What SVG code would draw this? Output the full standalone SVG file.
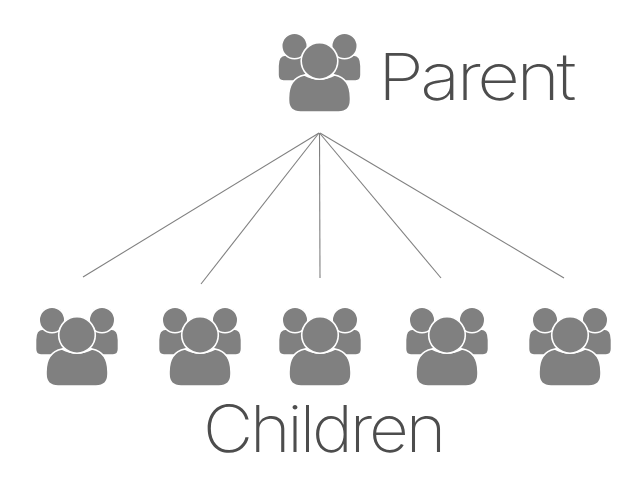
<svg xmlns="http://www.w3.org/2000/svg" width="640" height="480" viewBox="0 0 640 480">
<style>
.l{stroke:#808080;stroke-width:1.1;fill:none}
.t{font-family:"Inter","Liberation Sans",sans-serif;font-weight:200;fill:#4d4d4d;font-size:65px;letter-spacing:-3px}
.i{fill:#808080;stroke:#fff;stroke-width:1.6}
</style>
<defs>
<g id="people">
<path class="i" d="M-41.500 5Q-41.500 -6 -34 -6Q-25 -2 -15 -5L-6 5L-20 20H-36Q-41.500 20 -41.500 14Z"/>
<path class="i" d="M41.500 5Q41.500 -6 34 -6Q25 -2 15 -5L6 5L20 20H36Q41.500 20 41.500 14Z"/>
<circle class="i" cx="-25" cy="-15" r="12.800"/>
<circle class="i" cx="25" cy="-15" r="12.800"/>
<path class="i" d="M-15 14C-25 16 -31 24 -31 37V39Q-31 51 -19 51H19Q31 51 31 39V37C31 24 25 16 15 14Q0 22 -15 14Z"/>
<circle class="i" cx="0" cy="0" r="18.300"/>
</g>
</defs>
<g id="connectors">
<line class="l" x1="319" y1="133" x2="83" y2="277"/>
<line class="l" x1="319" y1="133" x2="201" y2="284"/>
<line class="l" x1="319.500" y1="133" x2="320" y2="278"/>
<line class="l" x1="319.500" y1="133" x2="441" y2="278"/>
<line class="l" x1="320" y1="133" x2="564" y2="278"/>
</g>
<g id="parent"><use href="#people" x="319.500" y="61"/><text class="t" x="378" y="100" textLength="195" lengthAdjust="spacingAndGlyphs">Parent</text></g>
<g id="child1"><use href="#people" x="77" y="335"/></g>
<g id="child2"><use href="#people" x="200" y="335"/></g>
<g id="child3"><use href="#people" x="320" y="335"/></g>
<g id="child4"><use href="#people" x="447" y="335"/></g>
<g id="child5"><use href="#people" x="570" y="335"/></g>
<g id="children-label"><text class="t" x="203" y="452" textLength="240" lengthAdjust="spacingAndGlyphs">Children</text></g>
</svg>
